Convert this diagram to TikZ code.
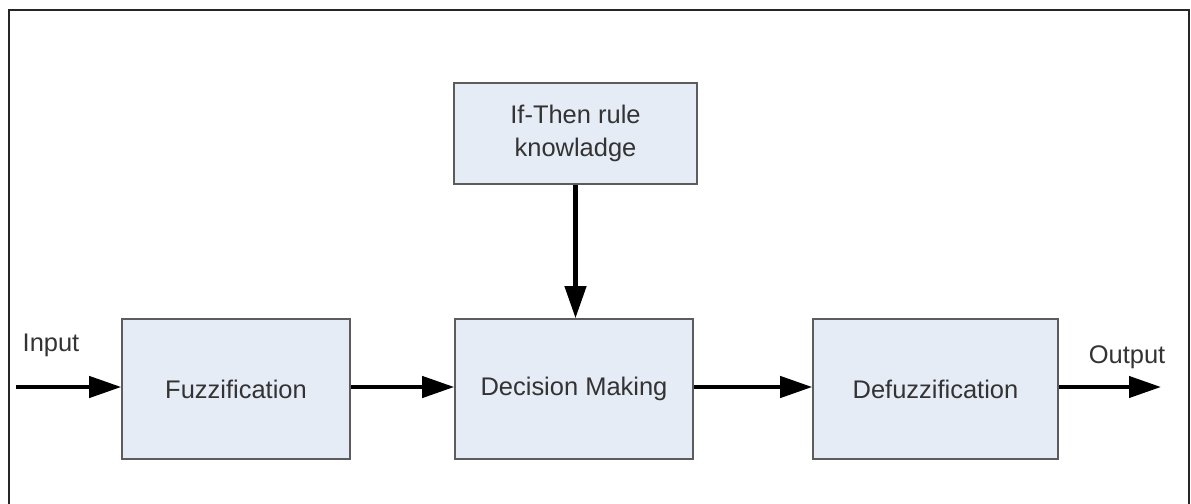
\documentclass[tikz,border=0pt]{standalone}
\usepackage{fontspec}
\setmainfont{Liberation Sans}
\usetikzlibrary{arrows.meta, positioning, shadows}

\definecolor{boxfill}{HTML}{E6ECF6}
\definecolor{boxline}{HTML}{5C5C5C}
\definecolor{txt}{HTML}{333333}

\tikzset{
    block/.style={draw=boxline, fill=boxfill, line width=0.9pt, text=txt,
        align=center, inner sep=0pt,
        drop shadow={shadow xshift=0.6pt, shadow yshift=-0.6pt, opacity=0.35, fill=black}},
    flow/.style={line width=2.4pt, -{Triangle[length=6.4mm, width=4.2mm]}},
    lbl/.style={text=txt, inner sep=0pt}
}

\begin{document}
\begin{tikzpicture}[x=0.02cm, y=-0.02cm, font=\fontsize{14.5pt}{18.7pt}\selectfont]
        \useasboundingbox (0,0) rectangle (1191,504);
        \draw[line width=1.6pt, black!85] (9,504) -- (9,10) -- (1189,10) -- (1189,504);

        \node[block, minimum width=4.56cm, minimum height=2.8cm] (fuzz) at (236,389) {Fuzzification};
        \node[block, minimum width=4.76cm, minimum height=2.8cm] (decide) at (574,389) {Decision Making};
        \node[block, minimum width=4.9cm, minimum height=2.8cm] (defuzz) at (935.5,389) {Defuzzification};
        \node[block, minimum width=4.86cm, minimum height=2.02cm] (rules) at (575.5,133.5) {If-Then rule\\knowladge};

        \coordinate (in) at (16,387);
        \coordinate (out) at (1161,387);

        \node[lbl] (inlbl) at (51,345) {Input};
        \node[lbl] (outlbl) at (1127,357) {Output};

        \draw[flow] (in) -- (in -| fuzz.west);
        \draw[flow] (in -| fuzz.east) -- (in -| decide.west);
        \draw[flow] (in -| decide.east) -- (in -| defuzz.west);
        \draw[flow] (in -| defuzz.east) -- (out);
        \draw[flow] (rules.south) -- (decide.north -| rules.south);
    \end{tikzpicture}
\end{document}
